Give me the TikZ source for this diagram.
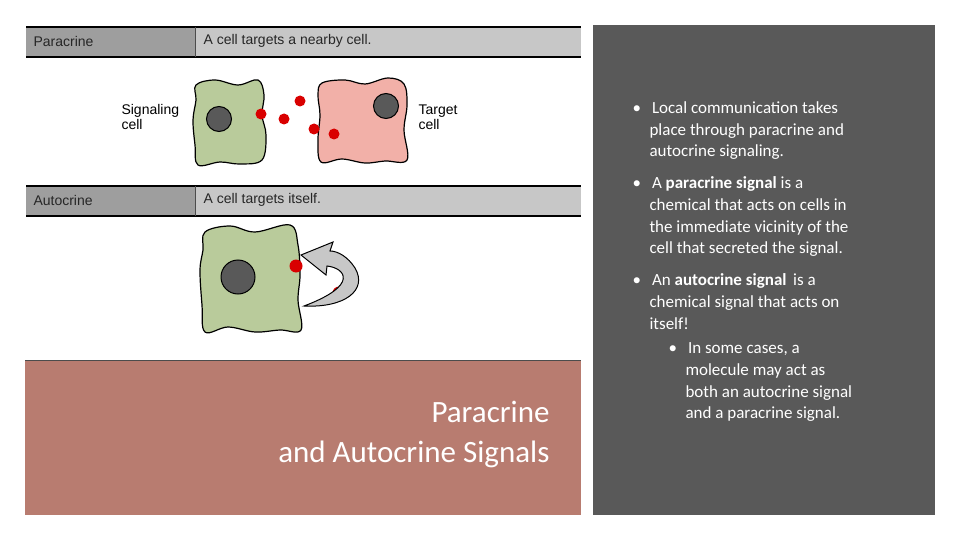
\documentclass[tikz,border=0pt]{standalone}
\usepackage{fontspec}
\setmainfont{Carlito}
\newfontfamily\arialf{Liberation Sans}
\begin{document}
\begin{tikzpicture}[x=1pt,y=-1pt,
  hdr/.style={font=\arialf\fontsize{14}{16}\selectfont,anchor=west,text=black!85},
  cellg/.style={fill=green!20!olive!25!white,draw=black,line width=1.2pt},
  nuc/.style={fill=black!65,draw=black,line width=1pt},
  dot/.style={fill=red!85!black,draw=none},
  bul/.style={font=\fontsize{17}{21.8}\selectfont,text=white,anchor=north west,align=left}]
\useasboundingbox (0,0) rectangle (960,540);
\fill[white] (0,0) rectangle (960,540);
\definecolor{cg}{HTML}{B9CB9B}
\definecolor{cr}{HTML}{F2B0A8}
\definecolor{panel}{HTML}{B87C70}
\definecolor{dark}{HTML}{595959}
% header bars
\foreach \y/\a/\b [count=\i] in {27/Paracrine/A cell targets a nearby cell., 186/Autocrine/A cell targets itself.}{
  \fill[black!38] (26,\y) rectangle (195,\y+30);
  \fill[black!22] (195,\y) rectangle (581,\y+30);
  \draw[line width=1.2pt] (26,\y) -- (581,\y);
  \draw[line width=1.5pt] (26,\y+30) -- (581,\y+30);
  \draw[line width=1pt,black!70] (195,\y) -- (195,\y+30);
  \node[hdr] (h\i a) at (30,\y+14) {\a};
  \node[hdr] (h\i b) at (200,\y+14) {\b};
}
% cells
\draw[cellg,fill=cg] plot[smooth cycle,tension=0.6] coordinates {(196,85) (215,80) (238,85) (258,80) (264,95) (262,115) (266,135) (262,160) (240,164) (220,162) (198,165) (195,145) (193,120) (196,100)};
\draw[line width=1.2pt,fill=cr] plot[smooth cycle,tension=0.6] coordinates {(322,83) (345,80) (365,84) (388,78) (404,84) (407,105) (404,130) (407,160) (385,161) (365,163) (342,159) (321,162) (318,140) (320,115) (318,95)};
\node[nuc,circle,minimum size=25pt,inner sep=0] (n1) at (219,119) {};
\node[nuc,circle,minimum size=25pt,inner sep=0] (n2) at (386,106) {};
\foreach \x/\y [count=\i] in {261/114,284/119,300/101,314/129,334/134}
  \node[dot,circle,minimum size=11pt,inner sep=0] (d\i) at (\x,\y) {};
\node[font=\arialf\fontsize{14}{15}\selectfont,align=left,anchor=west] (sig) at (118,117) {Signaling\\cell};
\node[font=\arialf\fontsize{14}{15}\selectfont,align=left,anchor=west] (tgt) at (415,117) {Target\\cell};
% autocrine cell
\draw[cellg,fill=cg] plot[smooth cycle,tension=0.6] coordinates {(205,232) (230,226) (255,232) (290,225) (298,245) (300,275) (298,300) (301,330) (280,330) (255,332) (228,327) (205,332) (202,305) (200,270) (203,250)};
\node[nuc,circle,minimum size=34pt,inner sep=0] (n3) at (238,277) {};
\node[dot,circle,minimum size=13pt,inner sep=0] (d6) at (296,266) {};
\node[dot,circle,minimum size=13pt,inner sep=0] (d7) at (339,293) {};
% curved arrow
\fill[black!22,draw=black,line width=1pt] (304,306) .. controls (345,308) and (368,290) .. (355,268)
  .. controls (348,257) and (338,251) .. (330,251) -- (333,242) -- (301,255) -- (326,275) -- (327,266)
  .. controls (345,268) and (360,285) .. (304,306) -- cycle;
% lower-left panel
\fill[panel] (25,360) rectangle (581,515);
\draw[black!70,line width=1pt] (25,360) -- (581,360);
\node[font=\fontsize{31}{40}\selectfont,text=white,align=right,anchor=north east] (title) at (553,398) {Paracrine\\and Autocrine Signals};
% right panel
\fill[dark] (593,25) rectangle (935,515);
\node[bul] (b1) at (629,98) {•\hspace{11pt}Local communication takes\\\hspace{17pt}place through paracrine and\\\hspace{17pt}autocrine signaling.};
\node[bul] (b2) at (629,173) {•\hspace{11pt}A \textbf{paracrine signal} is a\\\hspace{17pt}chemical that acts on cells in\\\hspace{17pt}the immediate vicinity of the\\\hspace{17pt}cell that secreted the signal.};
\node[bul] (b3) at (629,270) {•\hspace{11pt}An \textbf{autocrine signal}\, is a\\\hspace{17pt}chemical signal that acts on\\\hspace{17pt}itself!};
\node[bul] (b4) at (665,339) {•\hspace{11pt}In some cases, a\\\hspace{17pt}molecule may act as\\\hspace{17pt}both an autocrine signal\\\hspace{17pt}and a paracrine signal.};
\end{tikzpicture}
\end{document}
